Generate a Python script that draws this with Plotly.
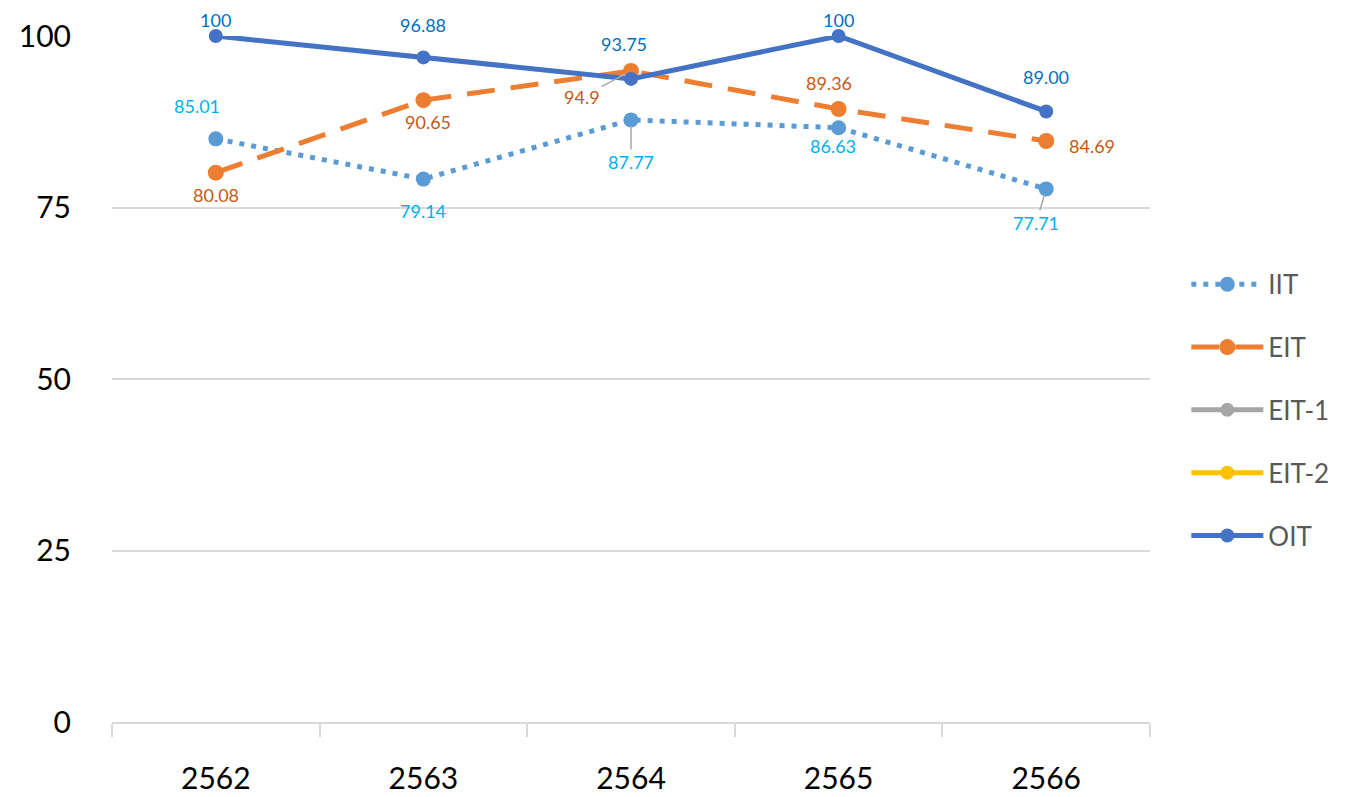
import plotly.graph_objects as go

years = ["2562", "2563", "2564", "2565", "2566"]
iit = [85.01, 79.14, 87.77, 86.63, 77.71]
eit = [80.08, 90.65, 94.9, 89.36, 84.69]
eit1 = [None, None, None, None, None]
eit2 = [None, None, None, None, None]
oit = [100, 96.88, 93.75, 100, 89.00]
iit_text = ["85.01", "79.14", "87.77", "86.63", "77.71"]
eit_text = ["80.08", "90.65", "94.9", "89.36", "84.69"]
oit_text = ["100", "96.88", "93.75", "100", "89.00"]

FONT = "Lato"

fig = go.Figure()
fig.add_trace(go.Scatter(x=years, y=iit, name="IIT", mode="lines+markers",
                         line=dict(color="#5B9BD5", width=5, dash="5px,7px"),
                         marker=dict(size=15, color="#5B9BD5"),
                         legendgroup="a", cliponaxis=False))
fig.add_trace(go.Scatter(x=years, y=eit, name="EIT", mode="lines+markers",
                         line=dict(color="#ED7D31", width=5, dash="28px,16px"),
                         marker=dict(size=16, color="#ED7D31"),
                         legendgroup="b", cliponaxis=False))
fig.add_trace(go.Scatter(x=years, y=eit1, name="EIT-1", mode="lines+markers",
                         line=dict(color="#A5A5A5", width=5),
                         marker=dict(size=14, color="#A5A5A5"),
                         legendgroup="c"))
fig.add_trace(go.Scatter(x=years, y=eit2, name="EIT-2", mode="lines+markers",
                         line=dict(color="#FFC000", width=5),
                         marker=dict(size=14, color="#FFC000"),
                         legendgroup="d"))
fig.add_trace(go.Scatter(x=years, y=oit, name="OIT", mode="lines+markers",
                         line=dict(color="#4472C4", width=5),
                         marker=dict(size=14, color="#4472C4"),
                         legendgroup="e", cliponaxis=False))

# label offsets in pixels (dx, dy where dy positive = down), and whether a leader line is drawn
iit_off = [(-19, -33, False), (0, 32, False), (0, 42, True), (-6, 18, False), (-10, 34, True)]
eit_off = [(0, 22, False), (5, 22, False), (-49, 26, True), (-10, -26, False), (46, 5, False)]
oit_off = [(0, -16, False), (0, -32, False), (-7, -35, False), (0, -16, False), (0, -34, False)]

def add_labels(values, texts, offs, color):
    for i, (yv, t, (dx, dy, lead)) in enumerate(zip(values, texts, offs)):
        if lead:
            fig.add_annotation(x=i, y=yv, xref="x", yref="y", text=t,
                               showarrow=True, ax=dx, ay=dy, arrowhead=0,
                               arrowwidth=1.5, arrowcolor="#A6A6A6", standoff=6,
                               font=dict(family=FONT, size=18, color=color))
        else:
            fig.add_annotation(x=i, y=yv, xref="x", yref="y", text=t,
                               showarrow=False, xshift=dx, yshift=-dy,
                               font=dict(family=FONT, size=18, color=color))

add_labels(iit, iit_text, iit_off, "#00B0F0")
add_labels(eit, eit_text, eit_off, "#C55A11")
add_labels(oit, oit_text, oit_off, "#0070C0")

fig.update_layout(
    width=1350, height=789,
    margin=dict(l=104, r=208, t=28, b=75, autoexpand=False),
    paper_bgcolor="white", plot_bgcolor="white",
    font=dict(family=FONT, color="#000000"),
    showlegend=True,
    legend=dict(x=1.035, y=0.455, xanchor="left", yanchor="middle",
                font=dict(family=FONT, size=26, color="#595959"),
                tracegroupgap=26, itemwidth=72, bgcolor="rgba(0,0,0,0)"),
)
fig.update_xaxes(type="category", range=[-0.5, 4.5], showgrid=False,
                 showline=True, linecolor="#D9D9D9", linewidth=1.5,
                 ticks="outside", tickson="boundaries", ticklen=13,
                 tickcolor="#D9D9D9", tickwidth=1.5, automargin=False,
                 ticklabelstandoff=29,
                 tickfont=dict(family=FONT, size=30, color="#000000"))
fig.update_yaxes(range=[0, 100], tickvals=[0, 25, 50, 75, 100],
                 showgrid=True, gridcolor="#D9D9D9", gridwidth=1.5,
                 showline=False, zeroline=False, ticks="", automargin=False,
                 ticklabelstandoff=40,
                 tickfont=dict(family=FONT, size=30, color="#000000"))

fig.write_html("out.html")
